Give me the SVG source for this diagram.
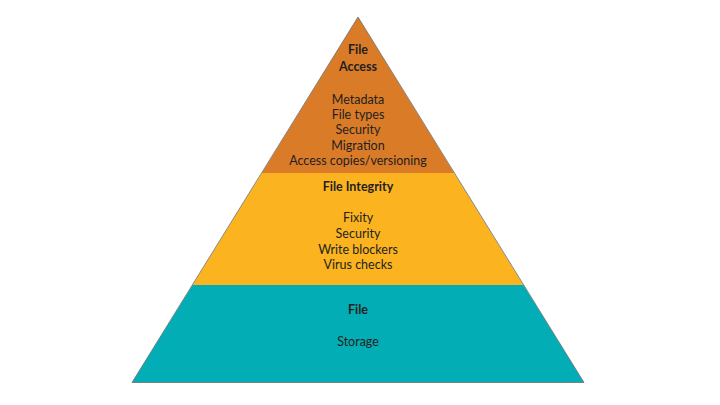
<svg xmlns="http://www.w3.org/2000/svg" width="720" height="405" viewBox="0 0 720 405">
<style>
.t{font-family:Lato,"Open Sans","Liberation Sans",sans-serif;font-size:12.5px;fill:#231f20;text-anchor:middle}
.b{font-weight:bold}
.band{stroke:none}
.edge{fill:none;stroke:#6d6e70;stroke-width:0.8;stroke-linejoin:miter}
</style>
<rect width="720" height="405" fill="#ffffff"/>
<g id="storage">
<polygon class="band" points="192.5,285 523.5,285 584,382.5 132,382.5" fill="#03adb5"/>
<text class="t b" x="358" y="314">File</text>
<text class="t" x="358" y="346" fill="#3a3a3a">Storage</text>
</g>
<g id="integrity">
<polygon class="band" points="261.8,173 454.2,173 523.5,285 192.5,285" fill="#fbb41f"/>
<text class="t b" x="358" y="191">File Integrity</text>
<text class="t" x="358" y="222">Fixity</text>
<text class="t" x="358" y="238">Security</text>
<text class="t" x="358" y="254">Write blockers</text>
<text class="t" x="358" y="269">Virus checks</text>
</g>
<g id="access">
<polygon class="band" points="358,17 454.2,173 261.8,173" fill="#da7b28"/>
<text class="t b" x="358" y="54">File</text>
<text class="t b" x="358" y="71">Access</text>
<text class="t" x="358" y="104">Metadata</text>
<text class="t" x="358" y="119">File types</text>
<text class="t" x="358" y="134">Security</text>
<text class="t" x="358" y="150">Migration</text>
<text class="t" x="358" y="165">Access copies/versioning</text>
</g>
<polygon id="outline" class="edge" points="358,17 584,382.5 132,382.5"/>
</svg>
